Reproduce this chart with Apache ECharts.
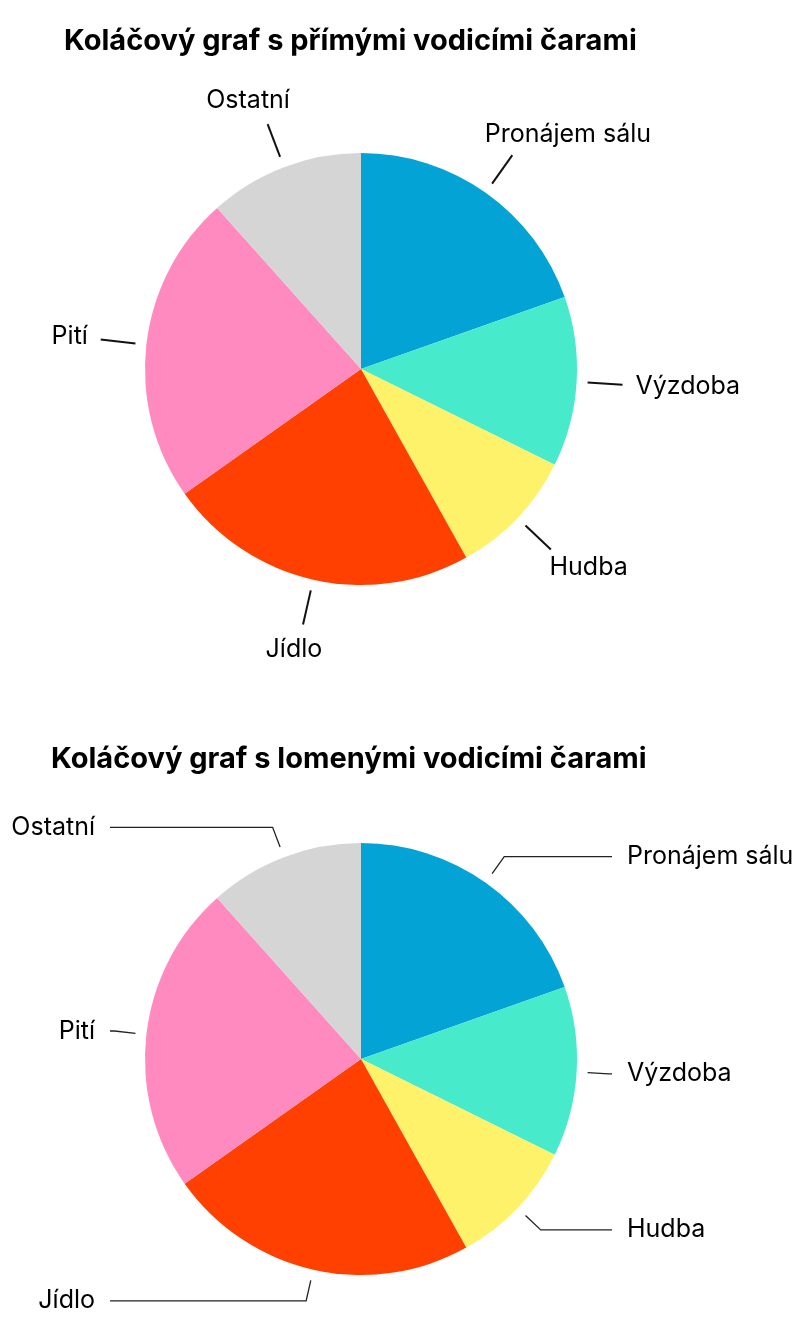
<!DOCTYPE html>
<html>
<head>
<meta charset="utf-8">
<title>Koláčový graf</title>
<script src="https://cdn.jsdelivr.net/npm/echarts@6/dist/echarts.min.js"></script>
<style>
  html, body { margin: 0; padding: 0; background: #fff; }
  #chart { width: 806px; height: 1327px; }
</style>
</head>
<body>
<div id="chart"></div>
<script>
// data (share of the budget, %)
var kategorie = ['Pronájem sálu', 'Výzdoba', 'Hudba', 'Jídlo', 'Pití', 'Ostatní'];
var hodnoty = [19.6, 12.7, 9.6, 23.3, 23.2, 11.6];
var barvy = ['#03a3d6', '#47eacb', '#fff26b', '#ff4000', '#ff8abf', '#d5d5d5'];
var nadpisy = ['Koláčový graf s přímými vodicími čarami', 'Koláčový graf s lomenými vodicími čarami'];

var FONT = 'Inter';
var R = 216;          // pie radius
var CX = 361;         // both pies share the same x
var GAP = 11;         // empty space between pie and leader line
var END = 35;         // bent lines end this far outside the pie

function getData() {
  return kategorie.map(function (k, i) {
    return { name: k, value: hodnoty[i], itemStyle: { color: barvy[i] } };
  });
}

function unit(a, b) {
  var vx = b[0] - a[0], vy = b[1] - a[1];
  var len = Math.sqrt(vx * vx + vy * vy) || 1;
  return [vx / len, vy / len];
}

// straight lines : line starts a bit off the pie, text sits past the line end
function straightLayout(params) {
  var pts = params.labelLinePoints;
  if (!pts) return {};
  var a = pts[0], b = pts[1];
  var u = unit(a, b);
  var r = params.labelRect;
  return {
    x: b[0] + u[0] * (r.width / 2 + 13),
    y: b[1] + u[1] * (r.height / 2 + 13),
    align: 'center',
    verticalAlign: 'middle',
    labelLinePoints: [[a[0] + u[0] * GAP, a[1] + u[1] * GAP], b]
  };
}

// bent lines : radial piece, then a horizontal piece to a common x on each side
function bentLayout(params) {
  var pts = params.labelLinePoints;
  if (!pts) return {};
  var a = pts[0], b = pts[1];
  var u = unit(a, b);
  var left = b[0] < a[0];
  var endX = left ? CX - R - END : CX + R + END;
  return {
    x: left ? endX - 15 : endX + 15,
    y: b[1],
    align: left ? 'right' : 'left',
    verticalAlign: 'middle',
    labelLinePoints: [[a[0] + u[0] * GAP, a[1] + u[1] * GAP], b, [endX, b[1]]]
  };
}

var titleStyle = { color: '#000', fontSize: 29, fontWeight: 'bold', fontFamily: FONT };
var labelStyle = { color: '#000', fontSize: 25, fontFamily: FONT };

var chart = echarts.init(document.getElementById('chart'), null, { renderer: 'canvas' });
chart.setOption({
  animation: false,
  backgroundColor: '#fff',
  title: [
    { text: nadpisy[0], left: 64, top: 27, padding: 0, textStyle: titleStyle },
    { text: nadpisy[1], left: 51, top: 745, padding: 0, textStyle: titleStyle }
  ],
  series: [
    {
      name: 'rovne',
      type: 'pie',
      center: [CX, 369],
      radius: R,
      startAngle: 90,
      clockwise: true,
      silent: true,
      data: getData(),
      label: Object.assign({ position: 'outside' }, labelStyle),
      labelLine: { length: 46, length2: 1, lineStyle: { color: '#111', width: 2 } },
      labelLayout: straightLayout
    },
    {
      name: 'lomene',
      type: 'pie',
      center: [CX, 1059],
      radius: R,
      startAngle: 90,
      clockwise: true,
      silent: true,
      data: getData(),
      label: Object.assign({ position: 'outside' }, labelStyle),
      labelLine: { length: 32, length2: 1, lineStyle: { color: '#222', width: 1.3 } },
      labelLayout: bentLayout
    }
  ]
});
</script>
</body>
</html>
